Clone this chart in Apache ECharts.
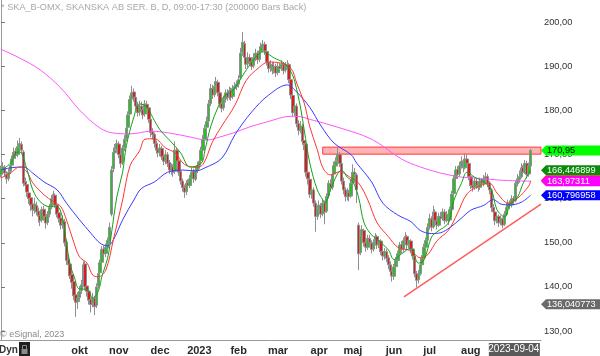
<!DOCTYPE html>
<html><head><meta charset="utf-8">
<script src="https://cdn.jsdelivr.net/npm/echarts@6/dist/echarts.min.js"></script>
<style>html,body{margin:0;padding:0;background:#fff}#c{width:600px;height:356px}</style>
</head><body><div id="c"></div>
<script>
// [open, close, low, high] per daily bar
const candles = [
[165.5,166.5,164.8,167.5],[166.8,167.2,165.9,168.3],[167.0,165.8,165.0,167.6],[165.5,164.5,163.4,166.2],[164.6,166.0,164.0,166.8],
[166.2,167.5,165.6,168.2],[167.6,169.0,167.0,169.8],[169.2,170.5,168.5,171.6],[170.8,169.8,169.0,171.5],[170.0,171.8,169.4,173.2],
[171.5,172.5,170.6,173.8],[172.3,171.0,170.2,173.0],[170.6,163.5,162.8,171.0],[163.8,163.0,161.6,164.8],[163.2,161.5,160.4,164.0],
[161.3,160.0,158.8,162.5],[160.2,158.5,157.2,161.0],[158.8,157.5,156.0,159.6],[157.3,158.8,156.6,160.2],[158.5,157.0,156.2,159.3],
[157.2,156.0,154.6,158.0],[156.2,155.0,153.8,156.8],[155.2,157.5,154.6,158.2],[157.6,156.0,155.0,158.4],[156.0,154.5,153.2,156.8],
[154.6,156.5,154.0,157.2],[156.5,158.0,155.8,158.8],[158.2,160.0,157.6,160.8],[160.0,161.0,159.2,161.8],[160.8,158.5,158.0,161.2],
[158.6,156.5,155.8,159.0],[156.8,155.5,154.6,157.4],[155.6,154.0,153.0,156.0],[154.2,155.0,153.2,156.2],[154.8,150.0,149.2,155.4],
[150.2,146.0,145.0,150.8],[146.2,145.0,143.6,147.2],[145.2,142.5,141.8,146.0],[142.8,141.0,139.6,143.6],[141.2,138.0,137.0,141.8],
[138.2,136.5,133.2,139.0],[136.6,137.5,135.0,138.8],[137.6,139.0,136.6,140.2],[139.2,140.5,138.4,141.6],[140.6,145.0,140.2,145.8],
[145.2,140.0,139.2,145.8],[140.2,139.0,137.8,141.0],[139.0,137.0,136.0,139.6],[137.2,136.0,134.2,137.8],[136.2,137.5,135.4,138.6],
[137.4,135.5,133.6,138.0],[135.8,140.0,135.2,140.8],[140.2,143.0,139.6,143.8],[143.2,145.5,142.6,146.2],[145.6,148.5,145.0,149.2],
[148.6,147.5,146.4,149.4],[147.6,149.0,146.8,149.8],[148.8,150.5,147.6,151.2],[150.4,153.5,149.8,154.6],[156.5,166.5,156.0,167.4],
[166.8,170.5,166.0,171.6],[170.4,171.0,169.2,172.4],[171.2,172.5,170.4,173.4],[172.4,170.0,169.2,173.0],[170.0,168.0,167.0,170.8],
[168.2,171.5,167.6,172.2],[171.6,173.5,170.8,174.4],[173.6,176.0,173.0,177.0],[176.2,179.0,175.6,179.8],[179.2,182.5,178.6,183.4],
[182.6,184.0,181.8,185.6],[184.2,183.0,182.0,185.0],[183.0,181.0,180.2,183.8],[181.2,179.5,178.6,182.0],[179.6,181.0,178.8,182.2],
[181.0,180.0,179.0,182.0],[180.2,179.0,178.0,181.0],[179.2,181.5,178.6,182.4],[181.4,180.5,179.4,182.2],[180.6,178.0,177.2,181.0],
[178.0,175.0,174.0,178.4],[175.2,174.5,173.4,176.0],[174.6,172.5,171.6,175.0],[172.6,171.0,170.2,173.2],[171.2,170.5,169.4,172.0],
[170.4,171.5,169.6,172.4],[171.4,169.5,168.8,172.0],[169.6,168.5,167.6,170.4],[168.6,170.0,167.8,171.0],[170.0,168.0,167.2,170.6],
[168.2,166.5,165.6,168.8],[166.4,167.0,165.4,168.0],[167.2,166.0,165.0,167.8],[166.2,171.0,165.6,173.0],[171.0,168.5,167.6,171.6],
[168.6,166.0,165.2,169.0],[166.2,164.0,163.2,166.8],[164.0,162.5,161.6,164.6],[162.6,161.5,160.2,163.2],[161.6,163.5,160.8,164.2],
[163.6,163.0,162.0,164.4],[163.0,164.5,162.4,165.4],[164.6,166.0,164.0,167.0],[166.2,164.5,163.6,166.8],[164.4,166.5,164.0,167.4],
[166.4,167.5,165.8,168.4],[167.6,168.5,166.8,169.4],[168.6,171.0,168.2,171.8],[171.0,173.5,170.6,174.4],[173.4,176.0,173.0,176.8],
[176.2,177.5,175.4,178.6],[177.6,181.5,177.2,182.4],[181.6,185.0,181.0,186.0],[185.0,183.5,182.6,185.8],[183.6,185.5,183.0,186.6],
[185.6,186.5,184.8,187.6],[186.4,184.0,183.2,187.0],[184.0,181.5,180.6,184.6],[181.6,180.5,179.6,182.6],[180.6,182.5,180.0,183.4],
[182.6,184.0,181.8,184.8],[184.0,183.0,182.2,184.8],[183.0,184.5,182.4,185.4],[184.6,183.0,182.2,185.2],[183.2,185.0,182.6,185.8],
[185.0,185.5,184.2,186.4],[185.4,186.0,184.6,186.8],[186.0,187.0,185.2,188.0],[187.4,193.0,187.0,194.2],[193.2,195.5,192.4,197.8],
[195.2,192.0,191.2,195.8],[192.0,190.5,189.4,193.0],[190.6,192.0,189.8,193.2],[192.0,191.0,190.2,192.8],[191.0,190.0,189.2,191.8],
[190.2,192.0,189.6,193.0],[192.0,193.0,191.2,194.0],[193.0,191.5,190.6,193.6],[191.6,193.5,191.0,194.4],[193.4,194.5,192.6,195.4],
[194.4,195.0,193.4,196.0],[195.0,193.5,192.6,195.6],[193.4,191.0,190.2,194.0],[191.0,189.5,188.6,191.8],[189.6,190.5,188.8,191.4],
[190.4,189.0,188.2,191.0],[189.0,190.0,188.4,191.0],[190.0,188.5,187.6,190.6],[188.6,190.0,188.0,191.0],[190.0,189.5,188.6,190.8],
[189.6,190.5,189.0,191.4],[190.4,189.0,188.2,191.0],[189.2,190.0,188.6,191.0],[190.0,190.5,189.2,191.4],[190.4,187.0,186.2,190.8],
[187.0,183.5,182.6,187.6],[183.4,179.5,178.6,184.0],[179.6,181.0,178.8,182.4],[181.0,177.0,176.2,181.6],[177.0,175.5,174.4,177.8],
[175.4,176.5,174.8,177.6],[176.4,173.0,172.2,177.0],[173.2,172.5,171.0,174.4],[172.4,166.0,165.0,172.8],[166.0,164.5,163.2,166.8],
[164.4,161.0,160.2,165.0],[161.0,162.0,160.0,163.0],[162.0,159.0,158.2,162.6],[159.0,156.0,152.5,159.6],[156.0,157.5,155.2,158.4],
[157.6,158.5,156.8,159.6],[158.4,156.5,155.6,159.0],[156.6,159.0,156.0,159.8],[159.0,157.0,154.2,159.6],[157.2,160.5,156.8,161.2],
[160.6,163.5,160.0,164.2],[163.4,162.5,161.6,164.4],[162.6,165.5,162.0,166.2],[165.6,167.5,165.0,168.4],[167.4,168.5,166.6,169.4],
[168.6,170.0,167.8,171.5],[170.0,168.0,167.2,170.6],[168.0,164.0,163.2,168.4],[164.0,162.0,161.0,164.8],[162.0,160.5,159.4,162.6],
[160.4,161.5,159.6,162.4],[161.4,160.5,159.4,162.0],[160.6,163.5,160.2,164.4],[163.6,166.0,163.0,167.8],[166.0,165.5,164.4,167.0],
[165.4,162.0,159.0,165.8],[154.0,147.5,143.8,154.6],[147.8,151.5,147.2,152.4],[151.6,153.0,150.6,154.0],[152.8,150.0,149.2,153.2],
[150.0,149.0,148.0,150.8],[149.0,151.0,148.4,151.8],[151.0,150.0,149.0,151.8],[150.0,148.5,147.6,150.6],[148.6,150.0,148.0,150.8],
[150.0,151.5,149.4,152.2],[151.4,149.5,148.6,151.8],[149.6,150.5,148.8,151.4],[150.4,148.0,147.2,150.8],[148.0,147.0,146.0,148.8],
[147.0,148.0,146.2,148.8],[148.0,146.5,145.6,148.6],[146.6,145.0,144.0,147.2],[145.0,143.5,142.4,145.8],[143.6,142.5,141.2,144.2],
[142.4,144.5,141.6,145.2],[144.6,146.0,144.0,146.8],[146.0,147.5,145.4,148.2],[147.4,149.5,147.0,150.2],[149.6,148.5,147.6,150.4],
[148.6,150.5,148.0,151.2],[150.4,151.5,149.8,152.4],[151.4,149.5,148.6,151.8],[149.6,150.5,148.8,151.4],[150.4,148.5,147.6,150.8],
[148.6,147.0,146.2,149.0],[147.0,143.0,142.2,147.4],[143.0,141.5,139.9,143.6],[141.6,143.0,140.8,143.8],[143.0,145.0,142.6,145.8],
[145.0,146.5,144.4,147.2],[146.6,149.0,146.0,149.8],[149.0,150.5,148.4,151.2],[150.6,153.5,150.2,154.4],[153.6,155.5,153.0,156.6],
[155.4,153.5,152.6,156.0],[153.6,157.0,153.2,158.4],[157.0,155.0,154.0,157.6],[155.0,154.0,153.0,155.8],[154.0,156.0,153.6,156.8],
[156.0,155.5,154.4,157.0],[155.6,157.0,155.0,157.8],[157.0,155.0,154.2,157.6],[155.0,156.5,154.6,157.2],[156.4,155.0,154.0,157.0],
[155.2,157.5,154.8,158.2],[157.6,161.0,157.2,161.8],[161.2,164.5,160.6,165.4],[164.6,166.5,164.0,167.4],[166.6,165.5,164.6,167.4],
[165.6,167.5,165.0,168.4],[167.4,168.5,166.8,169.6],[168.6,167.0,166.0,169.0],[167.0,169.0,166.6,170.3],[169.0,168.0,167.0,170.0],
[168.0,165.0,164.2,168.4],[165.0,163.0,162.2,165.6],[163.0,162.5,161.6,163.8],[162.6,164.0,162.0,164.8],[164.0,163.0,162.2,164.6],
[163.0,162.5,161.6,163.6],[162.6,164.0,162.0,164.8],[164.0,163.5,162.6,164.6],[163.4,164.5,162.8,165.4],[164.4,165.0,163.8,166.0],
[165.0,163.5,162.6,165.6],[163.6,162.0,161.0,164.0],[162.0,158.0,157.0,162.4],[158.0,157.0,155.8,158.8],[157.0,155.0,154.0,157.4],
[155.0,156.0,154.4,156.8],[156.0,154.5,153.6,156.4],[154.6,155.5,154.0,156.2],[155.4,154.0,153.3,155.8],[154.2,156.5,153.8,157.2],
[156.4,158.0,156.0,158.6],[158.0,159.0,157.4,159.8],[159.0,158.5,157.6,159.6],[158.6,160.0,158.0,160.8],[160.0,159.5,158.6,160.6],
[159.6,163.5,159.2,164.2],[163.4,164.5,162.8,165.6],[164.4,165.0,163.6,166.4],[165.0,167.0,164.6,168.0],[167.0,166.0,165.0,167.6],
[166.0,168.0,165.6,168.8],[168.0,165.5,164.6,168.6],[165.6,167.5,165.0,168.2],[167.4,170.95,167.0,171.3]
];
const slotCount = 289;

// moving averages: [bar index, value]
const maGreen = [[0,166.5],[5,168],[8,170.4],[10,170.6],[14,166.5],[17,162],[21,159.3],[26,158.2],[30,158.2],[33,155.5],[35,150],[37,145],[39,142.5],[42,139.5],[46,139.5],[49,137.5],[52,139],[54,142.5],[57,146.5],[59,152],[62,160.6],[65,166],[67,172],[71,178.5],[74,181.5],[78,180.8],[81,178.5],[85,175.6],[90,173.3],[96,170.4],[101,167.2],[107,168],[109,171],[112,176.3],[116,180.8],[119,183.1],[124,184.6],[130,188.5],[135,191.5],[140,193.3],[146,191.9],[151,190.8],[155,188.7],[157,186.5],[160,180.8],[162,175.6],[165,168.1],[169,162],[172,159.7],[173,159],[176,162],[180,165.8],[182,166.5],[185,164.9],[188,163.8],[191,160.4],[194,154.5],[198,151.8],[203,150],[207,148.4],[210,146.2],[214,147.5],[219,148.8],[223,145.4],[226,146.1],[230,151.3],[233,152.5],[239,154.5],[242,159.7],[246,163.5],[249,166],[253,164.9],[258,163.8],[262,162],[265,157.5],[269,155.9],[272,158.6],[276,160.4],[279,163.5],[283,166.45]];
const maRed = [[0,164.7],[5,165.8],[10,167.2],[14,166],[17,163.6],[23,160.9],[28,159.3],[32,158.2],[35,155.2],[39,150],[42,146.8],[46,145.4],[49,142.7],[52,142.3],[56,143.8],[60,150.6],[65,159.7],[69,167.5],[74,170.8],[77,173.5],[82,173.6],[88,171.5],[93,170.4],[98,167.8],[104,167.1],[108,167.8],[113,172.9],[118,176.5],[125,181.2],[131,186.8],[138,189.8],[143,191],[149,190.8],[155,189.5],[158,186.2],[162,181.7],[165,176.3],[169,171.1],[172,167],[176,165.4],[181,166.1],[187,164.7],[191,163.6],[196,159.7],[201,154.5],[207,151.4],[212,149],[219,148.2],[224,146.6],[228,147.3],[233,150.5],[239,152.8],[244,156.8],[249,161.1],[255,162.8],[261,163.5],[265,161.3],[271,159],[276,160.1],[282,162.9],[283,164.1]];
const maBlue = [[0,166.5],[5,167],[12,167.2],[17,165.8],[23,163.8],[30,162],[35,159],[42,155.2],[48,152.2],[53,149.9],[57,149.3],[60,150.6],[65,155.2],[71,159.7],[75,162.3],[82,163.8],[89,166],[97,166.5],[104,166.3],[109,167],[118,169.2],[125,174.5],[134,179.7],[143,183.5],[153,185.8],[158,184.2],[165,180.7],[171,176.5],[178,172.6],[187,170],[190,168.1],[198,163.8],[204,159],[212,156.3],[219,154.8],[224,152.8],[230,152.1],[235,152.3],[240,153.5],[246,155.6],[251,157.4],[258,158.5],[263,159.8],[267,158.8],[272,158.6],[278,159.2],[283,160.8]];
const maMagenta = [[0,193.9],[10,191.9],[21,189.2],[32,185.1],[42,180.1],[53,176.0],[60,174.9],[69,174.7],[80,175.3],[90,174.9],[101,174.0],[110,173.3],[117,174.0],[124,174.9],[133,176.3],[142,177.4],[155,178.7],[160,178.6],[165,178.0],[180,176.2],[198,173.5],[214,169.0],[224,167.2],[235,165.8],[246,164.9],[256,164.6],[267,164.2],[283,163.97]];
const trendLine = [[215.3,137.75],[288.5,158.75]];
const resistanceZone = [171.9, 171.7, 288.5, 170.1]; // from bar, top, to bar, bottom

const yTicks = [130,140,150,160,170,180,190,200];
const monthTicks = [[21,''],[42,'okt'],[63,'nov'],[85,'dec'],[106,'2023'],[127,'feb'],[148,'mar'],[170,'apr'],[188,'maj'],[210,'jun'],[229,'jul'],[251,'aug'],[274,'']];
const cursorDate = [274,'2023-09-04'];
const priceTags = [
  {value:164.2, text:'', bg:'#ff1a1a', fg:'#fff'},
  {value:170.95, text:'170,95', bg:'#00ff00', fg:'#000'},
  {value:166.446899, text:'166,446899', bg:'#0b8a0b', fg:'#fff'},
  {value:163.97311, text:'163,97311', bg:'#ff00ff', fg:'#fff'},
  {value:160.796958, text:'160,796958', bg:'#0000ff', fg:'#fff'},
  {value:136.040773, text:'136,040773', bg:'#6a6a6a', fg:'#fff'}
];
const titleText = '* SKA_B-OMX, SKANSKA AB SER. B, D, 09:00-17:30 (200000 Bars Back)';
const FONT = '"Liberation Sans", Arial, sans-serif';

const cats = Array.from({length: slotCount}, (_, i) => String(i));
const tickMap = new Map(monthTicks);
const chart = echarts.init(document.getElementById('c'), null, {renderer:'canvas'});

function maSeries(data, color) {
  return {type:'line', xAxisIndex:1, yAxisIndex:0, data, showSymbol:false, symbol:'none',
    smooth:0.35, lineStyle:{color, width:1}, z:4, silent:true};
}

chart.setOption({
  animation:false,
  backgroundColor:'#fff',
  grid:{left:0, right:59, top:0, bottom:16, containLabel:false},
  xAxis:[
    {type:'category', data:cats, boundaryGap:true,
     axisLine:{lineStyle:{color:'#9a9a9a', width:1}},
     axisTick:{alignWithLabel:true, length:4, interval:(i)=>tickMap.has(i), lineStyle:{color:'#9a9a9a'}},
     axisLabel:{interval:(i)=>tickMap.has(i) && tickMap.get(i)!=='', formatter:(v,i)=>tickMap.get(Number(v))||'',
       fontFamily:FONT, fontSize:11, fontWeight:'bold', color:'#2a2a2a', margin:5},
     splitLine:{show:false}},
    {type:'value', min:-0.5, max:slotCount-0.5, show:false}
  ],
  yAxis:[{type:'value', position:'right', min:127.96, max:205.06, scale:true,
    axisLine:{show:true, lineStyle:{color:'#9a9a9a'}},
    axisTick:{show:true, length:4, customValues:yTicks, lineStyle:{color:'#777'}},
    axisLabel:{customValues:yTicks, formatter:(v)=>v.toFixed(2).replace('.',','), fontFamily:FONT, fontSize:9.3, color:'#333', margin:3},
    splitLine:{show:false}}],
  series:[
    {type:'line', xAxisIndex:1, data:[], z:1, silent:true,
     markArea:{silent:true, itemStyle:{color:'#ffb3b3', borderColor:'#ff3a3a', borderWidth:1},
       data:[[{xAxis:resistanceZone[0], yAxis:resistanceZone[1]},{xAxis:resistanceZone[2], yAxis:resistanceZone[3]}]]}},
    {type:'candlestick', xAxisIndex:0, data:candles, barWidth:3, z:3, silent:true,
     itemStyle:{color:'#22c322', color0:'#d61e1e', borderColor:'#8f8f8f', borderColor0:'#8f8f8f', borderWidth:1}},
    maSeries(maMagenta, '#ff55ff'),
    maSeries(maBlue, '#3b3bff'),
    maSeries(maRed, '#ff3535'),
    maSeries(maGreen, '#16a016'),
    {type:'line', xAxisIndex:1, data:trendLine, showSymbol:false, symbol:'none', lineStyle:{color:'#ff5c5c', width:1.5}, z:4, silent:true}
  ]
});

// overlays placed through the chart's own scales
const gx = 541;
const g = [];
g.push({type:'text', left:1, top:3, style:{text:titleText, fill:'#a8a8a8', font:'9.2px '+FONT}});
g.push({type:'text', left:0, top:330, style:{text:'© eSignal, 2023', fill:'#8a8a8a', font:'9px '+FONT}});
g.push({type:'text', x:-1, y:350, style:{text:'Dyn', fill:'#333', font:'bold 10px '+FONT, verticalAlign:'middle'}});
g.push({type:'rect', shape:{x:19, y:342, width:11, height:14}, style:{fill:'#1e1e1e'}});
g.push({type:'rect', shape:{x:21.5, y:349, width:6, height:5}, style:{fill:'#8a8a8a'}});
g.push({type:'rect', shape:{x:22.5, y:345.5, width:4, height:4}, style:{fill:'none', stroke:'#8a8a8a', lineWidth:1}});
priceTags.forEach(t => {
  const y = chart.convertToPixel({yAxisIndex:0}, t.value);
  g.push({type:'polygon', shape:{points:[[gx,y],[gx+5,y-5],[600,y-5],[600,y+5],[gx+5,y+5]]}, style:{fill:t.bg}, z:10});
  if (t.text) g.push({type:'text', x:gx+6, y:y, style:{text:t.text, fill:t.fg, font:'9.2px '+FONT, verticalAlign:'middle', textAlign:'left'}, z:11});
});
const cx = chart.convertToPixel({xAxisIndex:0}, cursorDate[0]);
g.push({type:'rect', shape:{x:cx-25, y:343, width:51, height:13}, style:{fill:'#5a5a5a'}, z:10});
g.push({type:'text', x:cx, y:349.5, style:{text:cursorDate[1], fill:'#fff', font:'10px '+FONT, textAlign:'center', verticalAlign:'middle'}, z:11});
chart.setOption({graphic:g});
</script>
</body></html>
